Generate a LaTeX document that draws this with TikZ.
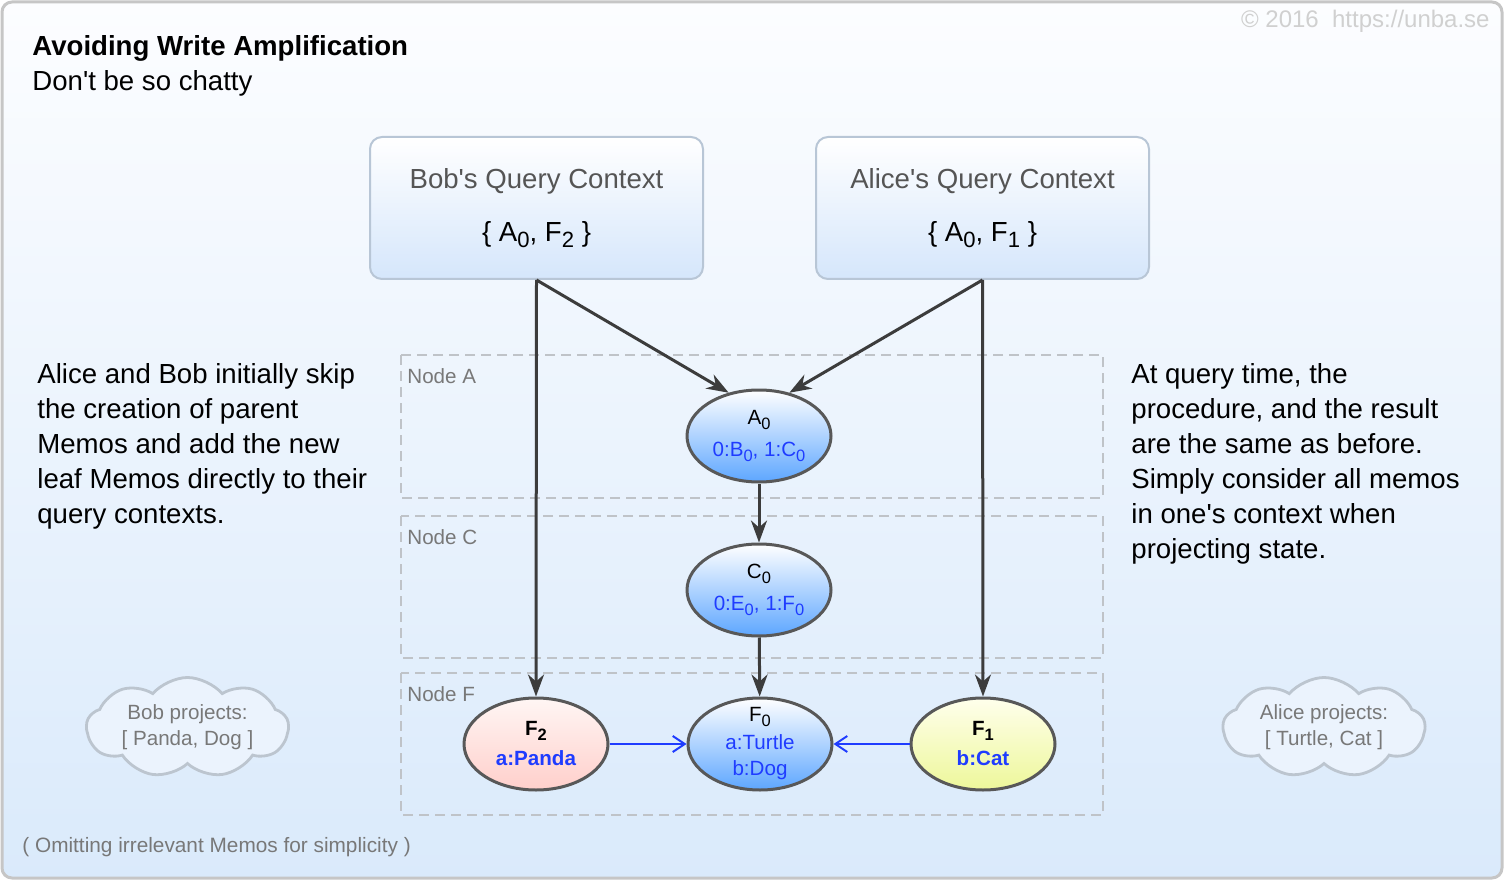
\documentclass[tikz,border=0pt]{standalone}
\usepackage{fontspec}
\setmainfont{Liberation Sans}
\usetikzlibrary{arrows.meta,shapes.geometric,shapes.symbols}

\definecolor{framegray}{HTML}{C6C6C6}
\definecolor{bgtop}{HTML}{FCFDFF}
\definecolor{bgbot}{HTML}{DAEAFB}
\definecolor{ctxedge}{HTML}{B8C6D6}
\definecolor{ctxbot}{HTML}{D5E6FB}
\definecolor{ctxtext}{HTML}{555555}
\definecolor{notegray}{HTML}{787878}
\definecolor{dashgray}{HTML}{BFC3C8}
\definecolor{copygray}{HTML}{D0D0D0}
\definecolor{memoblue}{HTML}{1F3CFF}
\definecolor{memoedge}{HTML}{585858}
\definecolor{memobot}{HTML}{5DA6FF}
\definecolor{pandatop}{HTML}{FFF6F4}
\definecolor{pandabot}{HTML}{FFCFCB}
\definecolor{cattop}{HTML}{FFFFEC}
\definecolor{catbot}{HTML}{EDF79A}
\definecolor{arrowgray}{HTML}{3C3C3C}
\definecolor{cloudedge}{HTML}{BCC5CF}

\newcommand{\idx}[1]{\raisebox{-0.45ex}{\scalebox{0.8}{#1}}}
\newcommand{\apos}{\textquotesingle}
\newcommand{\bodyfont}{\fontsize{13.8}{17.5}\selectfont}
\newcommand{\memofont}{\fontsize{10.3}{13}\selectfont}

\begin{document}
\begin{tikzpicture}[x=0.5pt, y=-0.5pt,
    ctx/.style={draw=ctxedge, line width=1pt, rounded corners=6pt,
        top color=white, bottom color=ctxbot, minimum width=166.5pt,
        minimum height=71pt, align=center, text=ctxtext, font=\bodyfont},
    zone/.style={draw=dashgray, line width=0.8pt, dash pattern=on 5pt off 3pt},
    zonelabel/.style={anchor=base west, inner sep=0pt, text=notegray, font=\memofont},
    memo/.style={ellipse, draw=memoedge, line width=1.5pt, minimum width=72pt,
        minimum height=46pt, inner sep=0pt, align=center, font=\memofont,
        top color=white, bottom color=memobot},
    cloudy/.style={cloud, cloud puffs=9, cloud puff arc=100, cloud ignores aspect,
        draw=cloudedge, line width=1.4pt, fill=bgbot!55!white,
        minimum width=101pt, minimum height=50pt, inner sep=0pt,
        align=center, text=notegray, font=\memofont},
    flow/.style={draw=arrowgray, line width=1.5pt,
        -{Stealth[length=11pt, width=8pt, inset=3.5pt]}},
    link/.style={draw=memoblue, line width=1pt,
        -{Straight Barb[length=6pt, width=8pt, line width=1pt]}}
]
\useasboundingbox (0,0) rectangle (1510,882);
% frame
\shadedraw[top color=bgtop, bottom color=bgbot, draw=framegray, line width=1.5pt,
    rounded corners=5pt] (2,2) rectangle (1502,878);

\node[anchor=base east, inner sep=0pt, text=copygray, font=\fontsize{12}{14}\selectfont]
    (copy) at (1490,28) {© 2016\ \ https://unba.se};
\node[anchor=north west, inner sep=0pt, align=left, font=\bodyfont] (title) at (32,35)
    {\textbf{Avoiding Write Amplification}\\Don\apos t be so chatty};

% query contexts
\node[ctx] (bob) at (536.5,208) {Bob\apos s Query Context\\[9pt]\textcolor{black}{\{ A\idx{0}, F\idx{2} \}}};
\node[ctx] (alice) at (982.5,208) {Alice\apos s Query Context\\[9pt]\textcolor{black}{\{ A\idx{0}, F\idx{1} \}}};

% storage nodes
\foreach \ytop/\ybot/\name in {355/498/A, 516/658/C, 673/815/F} {
    \draw[zone] (401,\ytop) rectangle (1103,\ybot);
    \node[zonelabel] (label\name) at (407,\ytop+28) {Node \name};
}

% memos
\node[memo] (A0) at (759,436) {A\idx{0}\\[3pt]\textcolor{memoblue}{0:B\idx{0}, 1:C\idx{0}}};
\node[memo] (C0) at (759,590) {C\idx{0}\\[3pt]\textcolor{memoblue}{0:E\idx{0}, 1:F\idx{0}}};
\node[memo, inner sep=-4pt] (F0) at (760,744)
    {F\idx{0}\\[1pt]\textcolor{memoblue}{a:Turtle}\\\textcolor{memoblue}{b:Dog}};
\node[memo, top color=pandatop, bottom color=pandabot] (F2) at (536,744)
    {\textbf{F\idx{2}}\\[2pt]\textcolor{memoblue}{\textbf{a:Panda}}};
\node[memo, top color=cattop, bottom color=catbot] (F1) at (983,744)
    {\textbf{F\idx{1}}\\[2pt]\textcolor{memoblue}{\textbf{b:Cat}}};

\draw[flow] (bob.south) -- (A0.125);
\draw[flow] (bob.south) -- (F2.north);
\draw[flow] (alice.south) -- (A0.55);
\draw[flow] (alice.south) -- (F1.north);
\draw[flow] (A0) -- (C0);
\draw[flow] (C0) -- (F0);
\draw[link] (F2) -- (F0);
\draw[link] (F1) -- (F0);

% side notes
\node[anchor=north west, inner sep=0pt, align=left, font=\bodyfont] (leftnote) at (37,363)
    {Alice and Bob initially skip\\the creation of parent\\Memos and add the new\\leaf Memos directly to their\\query contexts.};
\node[anchor=north west, inner sep=0pt, align=left, font=\bodyfont] (rightnote) at (1131,363)
    {At query time, the\\procedure, and the result\\are the same as before.\\Simply consider all memos\\in one\apos s context when\\projecting state.};

\node[cloudy] (bobcloud) at (187.5,727.5) {Bob projects:\\{[} Panda, Dog ]};
\node[cloudy] (alicecloud) at (1324,727.5) {Alice projects:\\{[} Turtle, Cat ]};

\node[anchor=base west, inner sep=0pt, text=notegray, font=\fontsize{10.4}{12}\selectfont]
    (omit) at (22,852) {( Omitting irrelevant Memos for simplicity )};
\end{tikzpicture}
\end{document}
